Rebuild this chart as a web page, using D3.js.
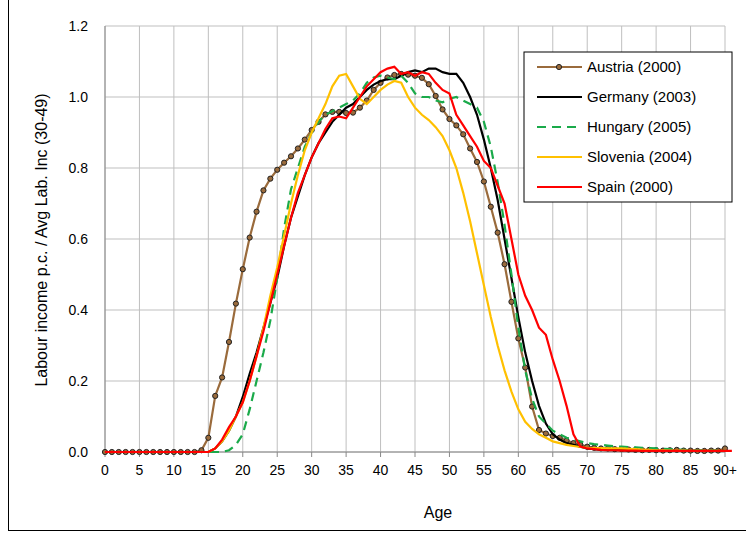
<!DOCTYPE html><html><head><meta charset="utf-8">
<script src="https://d3js.org/d3.v7.min.js"></script>
<style>body{margin:0;background:#fff}text{font-family:Arial,"Liberation Sans",sans-serif}</style></head><body>
<svg id="c" width="746" height="535"></svg>
<script>
const zeros=n=>Array(n).fill(0);
const austria=zeros(14).concat([0.005,0.04,0.158,0.21,0.31,0.418,0.515,0.604,0.677,0.737,0.77,0.795,0.815,0.833,0.855,0.88,0.907,0.93,0.951,0.958,0.958,0.955,0.956,0.97,0.99,1.02,1.04,1.055,1.062,1.065,1.063,1.06,1.054,1.036,1.003,0.965,0.938,0.92,0.895,0.855,0.817,0.762,0.691,0.618,0.529,0.423,0.32,0.238,0.128,0.062,0.052,0.045,0.04,0.032,0.025,0.02,0.015,0.012,0.01,0.01,0.008,0.008,0.007,0.006,0.005,0.006,0.005,0.004,0.005,0.006,0.004,0.004,0.003,0.003,0.004,0.004,0.01]);
const germany=zeros(16).concat([0.01,0.03,0.06,0.1,0.155,0.22,0.28,0.35,0.42,0.49,0.58,0.66,0.72,0.78,0.83,0.87,0.9,0.93,0.95,0.97,0.98,1.0,1.02,1.035,1.045,1.05,1.05,1.06,1.07,1.075,1.07,1.08,1.08,1.07,1.065,1.065,1.04,1.0,0.95,0.88,0.8,0.71,0.6,0.49,0.38,0.28,0.2,0.13,0.08,0.05,0.035,0.025,0.02,0.015,0.01,0.008,0.006,0.005,0.005,0.005,0.004,0.004,0.004,0.003,0.003,0.003,0.003,0.003,0.003,0.003,0.003,0.003,0.003,0.003,0.003]);
const hungary=zeros(18).concat([0.005,0.02,0.05,0.12,0.2,0.28,0.37,0.49,0.63,0.74,0.8,0.86,0.9,0.93,0.95,0.96,0.97,0.98,0.99,1.01,1.04,1.055,1.06,1.055,1.05,1.06,1.04,1.01,1.0,1.0,0.99,0.985,0.995,1.0,0.99,0.98,0.97,0.93,0.86,0.76,0.64,0.5,0.35,0.23,0.15,0.1,0.08,0.06,0.05,0.04,0.035,0.03,0.025,0.022,0.02,0.018,0.016,0.015,0.014,0.013,0.012,0.011,0.01,0.009,0.008,0.007,0.006,0.005,0.005,0.005,0.005,0.005,0.005]);
const slovenia=zeros(16).concat([0.01,0.03,0.06,0.1,0.14,0.2,0.27,0.35,0.44,0.52,0.61,0.7,0.78,0.85,0.9,0.94,0.98,1.03,1.06,1.065,1.03,0.995,0.98,1.0,1.02,1.035,1.045,1.04,1.0,0.97,0.95,0.935,0.915,0.89,0.85,0.8,0.73,0.65,0.56,0.47,0.38,0.3,0.23,0.17,0.12,0.085,0.065,0.05,0.04,0.03,0.025,0.02,0.017,0.014,0.012,0.011,0.011,0.01,0.01,0.01,0.009,0.008,0.007,0.006,0.005,0.005,0.004,0.004,0.004,0.003,0.003,0.003,0.003,0.003,0.003]);
const spain=zeros(16).concat([0.01,0.035,0.07,0.1,0.14,0.2,0.27,0.34,0.42,0.5,0.58,0.66,0.73,0.78,0.83,0.87,0.91,0.94,0.945,0.94,0.97,1.0,1.03,1.05,1.07,1.08,1.085,1.065,1.07,1.06,1.07,1.065,1.04,1.02,1.01,0.95,0.92,0.89,0.86,0.82,0.8,0.75,0.7,0.6,0.5,0.44,0.4,0.35,0.33,0.26,0.2,0.13,0.05,0.015,0.01,0.008,0.006,0.005,0.005,0.004,0.004,0.004,0.003,0.003,0.003,0.003,0.003,0.003,0.003,0.003,0.003,0.003,0.003,0.003,0.003,0.003]);
const series=[
 {name:"Austria (2000)",v:austria,c:"#9a6b3c",dots:true},
 {name:"Germany (2003)",v:germany,c:"#000000"},
 {name:"Hungary (2005)",v:hungary,c:"#1aaa4a",dash:"9,6"},
 {name:"Slovenia (2004)",v:slovenia,c:"#ffc000"},
 {name:"Spain (2000)",v:spain,c:"#ff0000"}];
const xTicks=d3.range(0,91,5), yTicks=d3.range(0,1.21,0.2);
const svg=d3.select("#c");
svg.append("rect").attr("x",8.5).attr("y",-1).attr("width",740).attr("height",531.5).attr("fill","none").attr("stroke","#000");
const x=d3.scaleLinear().domain([0,90]).range([105,725]);
const y=d3.scaleLinear().domain([0,1.2]).range([452,26]);
const g=svg.append("g");
g.selectAll(".vg").data(xTicks).join("line").attr("x1",d=>x(d)).attr("x2",d=>x(d)).attr("y1",26).attr("y2",452).attr("stroke","#bfbfbf");
g.selectAll(".hg").data(yTicks).join("line").attr("x1",105).attr("x2",725).attr("y1",d=>y(d)).attr("y2",d=>y(d)).attr("stroke","#bfbfbf");
g.append("line").attr("x1",105).attr("x2",105).attr("y1",26).attr("y2",452).attr("stroke","#888");
g.append("line").attr("x1",105).attr("x2",725).attr("y1",452).attr("y2",452).attr("stroke","#888");
g.selectAll(".xt").data(xTicks).join("line").attr("x1",d=>x(d)).attr("x2",d=>x(d)).attr("y1",452).attr("y2",457).attr("stroke","#888");
g.selectAll(".xl").data(xTicks).join("text").attr("x",d=>x(d)).attr("y",475).attr("text-anchor","middle").attr("font-size",14).text(d=>d===90?"90+":d);
g.selectAll(".yl").data(yTicks).join("text").attr("x",88).attr("y",d=>y(d)+5).attr("text-anchor","end").attr("font-size",14).text(d=>d.toFixed(1));
svg.append("text").attr("x",438).attr("y",518).attr("text-anchor","middle").attr("font-size",16).text("Age");
svg.append("text").attr("transform","translate(47,240) rotate(-90)").attr("text-anchor","middle").attr("font-size",16).text("Labour income p.c. / Avg Lab. Inc (30-49)");
const line=d3.line().x((d,i)=>x(i)).y(d=>y(d));
series.forEach(s=>{
 g.append("path").attr("d",line(s.v)).attr("fill","none").attr("stroke",s.c).attr("stroke-width",2.2).attr("stroke-dasharray",s.dash||null);
 if(s.dots) g.selectAll(".d").data(s.v).join("circle").attr("cx",(d,i)=>x(i)).attr("cy",d=>y(d)).attr("r",2.6).attr("fill","#9a6b3c").attr("stroke","#222").attr("stroke-width",1);
});
const L=svg.append("g");
L.append("rect").attr("x",524).attr("y",52).attr("width",208).attr("height",150).attr("fill","#fff").attr("stroke","#000");
series.forEach((s,i)=>{const yy=67+i*30;
 L.append("line").attr("x1",537).attr("x2",582).attr("y1",yy).attr("y2",yy).attr("stroke",s.c).attr("stroke-width",2.2).attr("stroke-dasharray",s.dash||null);
 if(s.dots)L.append("circle").attr("cx",559).attr("cy",yy).attr("r",2.6).attr("fill","#9a6b3c").attr("stroke","#222");
 L.append("text").attr("x",587).attr("y",yy+5).attr("font-size",15).text(s.name);});
</script></body></html>
